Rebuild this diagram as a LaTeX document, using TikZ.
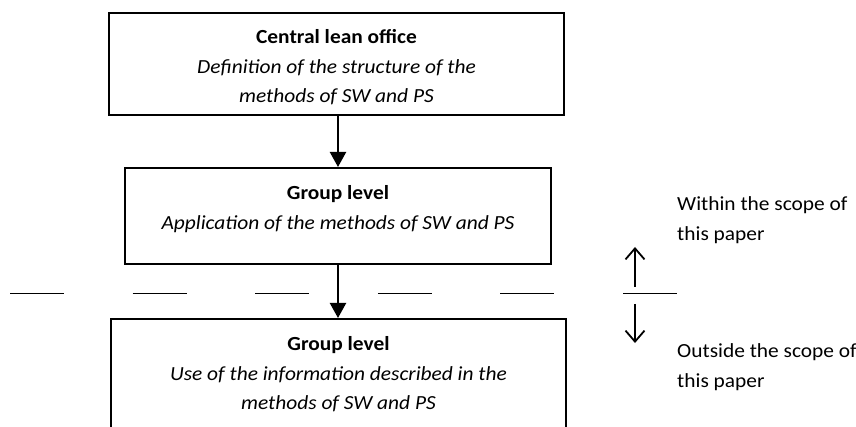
\documentclass[tikz,border=0pt]{standalone}
\usepackage{fontspec}
\setmainfont{Carlito}[FakeStretch=1.07]
\usetikzlibrary{arrows.meta,positioning}

\begin{document}
\begin{tikzpicture}[x=1pt,y=-1pt,
  level/.style={draw,line width=1.8pt,inner sep=0pt,align=center,anchor=north,
    font=\fontsize{20}{29.5}\selectfont},
  flow/.style={line width=2.2pt,-{Triangle[width=16pt,length=15pt]}},
  scope/.style={line width=1.8pt,-{Straight Barb[width=19pt,length=11pt,line width=1.8pt]}},
  note/.style={anchor=north west,align=left,inner sep=0pt,text height=45pt,
    font=\fontsize{20}{29.5}\selectfont}]
 \clip (0,0) rectangle (856,427);
 \node[level,minimum width=455pt,text height=90pt,text depth=12pt] (office) at (336.5,12)
  {\textbf{Central lean office}\\\textit{Definition of the structure of the}\\\textit{methods of SW and PS}};
 \node[level,minimum width=426pt,text height=61.5pt,text depth=34.5pt] (apply) at (338,167)
  {\textbf{Group level}\\\textit{Application of the methods of SW and PS}};
 \node[level,minimum width=455pt,text height=91pt,text depth=21pt] (use) at (338.5,318)
  {\textbf{Group level}\\\textit{Use of the information described in the}\\\textit{methods of SW and PS}};
 \draw[flow] (office.south -| apply.north) -- (apply.north);
 \draw[flow] (apply.south) -- (use.north -| apply.south);
 % boundary of the scope
 \foreach \x in {10,132.6,...,501}
  \draw[line width=1.8pt] (\x,293.5) -- ++(54,0);
 \coordinate (mark) at (635,293.5);
 \draw[line width=1.8pt] ([xshift=-12pt]mark) -- ++(54,0);
 \draw[scope] ([yshift=6.5pt]mark) -- ++(0,-40);
 \draw[scope] ([yshift=-10.5pt]mark) -- ++(0,39);
 \node[note] (within) at (677,195) {Within the scope of\\this paper};
 \node[note] (outside) at (677,342) {Outside the scope of\\this paper};
\end{tikzpicture}
\end{document}
